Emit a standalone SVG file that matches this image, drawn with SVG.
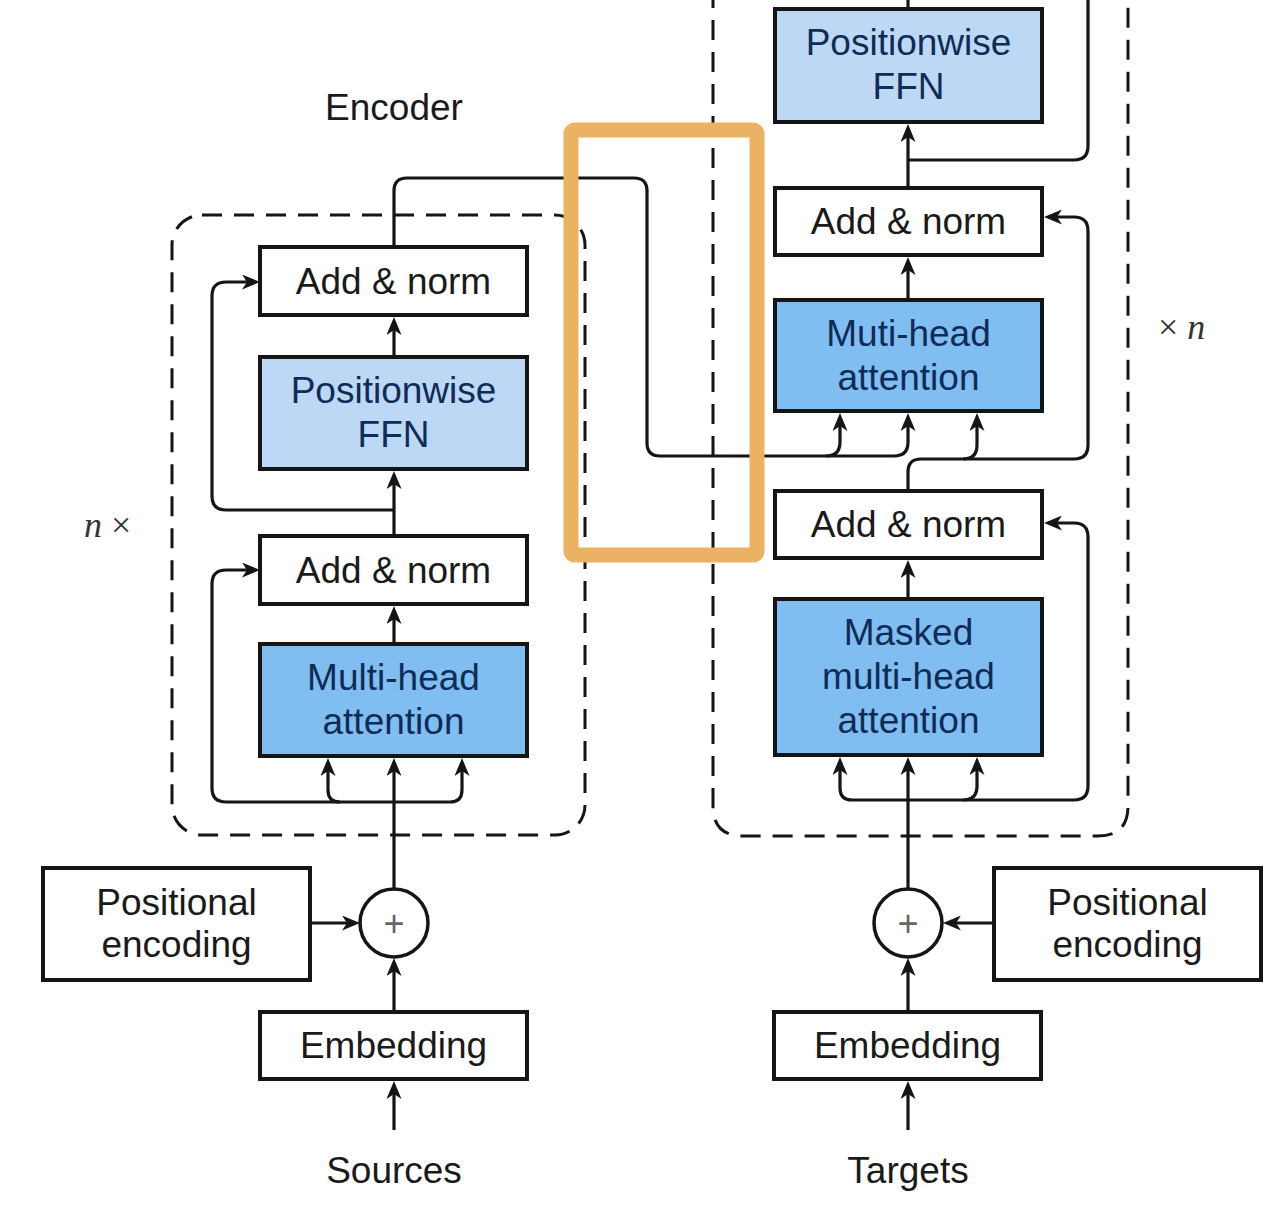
<svg xmlns="http://www.w3.org/2000/svg" width="1284" height="1228" viewBox="0 0 1284 1228">
  <style>
    .box { stroke: #151515; stroke-width: 4; }
    .plain { fill: #ffffff; }
    .ffn { fill: #bdd8f4; }
    .att { fill: #80bdf0; }
    .lbl { font-family: "Liberation Sans", Arial, sans-serif; font-size: 37px; text-anchor: middle; fill: #1a1a1a; }
    .lbl-blue { font-family: "Liberation Sans", Arial, sans-serif; font-size: 37px; text-anchor: middle; fill: #0f2b57; }
    .wire { fill: none; stroke: #151515; stroke-width: 3.2; }
    .arrow { fill: none; stroke: #151515; stroke-width: 3.2; marker-end: url(#head); }
    .frame { fill: none; stroke: #151515; stroke-width: 3; stroke-dasharray: 20 12; }
    .rep { font-family: "Liberation Serif", "Times New Roman", serif; font-size: 36px; fill: #333; }
    .sum { fill: #ffffff; stroke: #151515; stroke-width: 3.5; }
    .plus { font-family: "Liberation Sans", Arial, sans-serif; font-size: 36px; text-anchor: middle; fill: #666; }
  </style>
  <defs>
    <marker id="head" viewBox="0 0 18 15" markerWidth="18" markerHeight="15" refX="10" refY="7.5" orient="auto" markerUnits="userSpaceOnUse">
      <path d="M0,0 L18,7.5 L0,15 L5,7.5 Z" fill="#151515"/>
    </marker>
  </defs>

  <rect width="1284" height="1228" fill="#ffffff"/>

  <!-- repeated-block frames -->
  <g id="frames">
    <rect class="frame" x="172" y="215" width="413" height="620" rx="30" ry="30"/>
    <path class="frame" d="M713 -12 V806 Q713 836 743 836 H1098 Q1128 836 1128 806 V-12"/>
  </g>

  <!-- labels outside nodes -->
  <g id="captions">
    <text class="lbl" x="394" y="120">Encoder</text>
    <text class="lbl" x="394" y="1183">Sources</text>
    <text class="lbl" x="908" y="1183">Targets</text>
    <text class="rep" x="84" y="537"><tspan font-style="italic">n</tspan> ×</text>
    <text class="rep" x="1158" y="339">× <tspan font-style="italic">n</tspan></text>
  </g>

  <!-- connectors -->
  <g id="connectors">
    <!-- encoder input path -->
    <path class="arrow" d="M394 1130 V1089"/>
    <path class="arrow" d="M394 1012 V966"/>
    <path class="arrow" d="M310 923 H352"/>
    <path class="arrow" d="M394 889 V766"/>
    <!-- encoder attention fan-out and residual -->
    <path class="arrow" d="M394 802 H340 Q328 802 328 790 V766"/>
    <path class="arrow" d="M394 802 H450 Q462 802 462 790 V766"/>
    <path class="arrow" d="M340 802 H226 Q212 802 212 788 V584 Q212 570 226 570 H252"/>
    <path class="arrow" d="M394 644 V614"/>
    <path class="arrow" d="M394 536 V479"/>
    <path class="arrow" d="M394 510 H226 Q212 510 212 496 V296 Q212 282 226 282 H252"/>
    <path class="arrow" d="M394 357 V325"/>
    <!-- encoder output into decoder cross-attention -->
    <path class="wire" d="M394 247 V191 Q394 178 407 178 H634 Q647 178 647 191 V443 Q647 456 660 456 H826"/>
    <path class="arrow" d="M826 456 Q840 456 840 442 V421"/>
    <path class="arrow" d="M826 456 H894 Q908 456 908 442 V421"/>
    <!-- decoder input path -->
    <path class="arrow" d="M908 1130 V1089"/>
    <path class="arrow" d="M908 1012 V966"/>
    <path class="arrow" d="M994 923 H951"/>
    <path class="arrow" d="M908 889 V765"/>
    <!-- decoder masked attention fan-out and residual -->
    <path class="arrow" d="M908 800 H852 Q840 800 840 788 V765"/>
    <path class="arrow" d="M908 800 H963 Q977 800 977 786 V765"/>
    <path class="arrow" d="M963 800 H1074 Q1088 800 1088 786 V537 Q1088 523 1074 523 H1052"/>
    <path class="arrow" d="M908 599 V568"/>
    <!-- decoder query path and residual -->
    <path class="arrow" d="M908 491 V472 Q908 459 921 459 H963 Q977 459 977 445 V421"/>
    <path class="arrow" d="M963 459 H1074 Q1088 459 1088 445 V231 Q1088 217 1074 217 H1052"/>
    <path class="arrow" d="M908 300 V265"/>
    <path class="arrow" d="M908 188 V132"/>
    <path class="wire" d="M908 160 H1074 Q1088 160 1088 146 V-4"/>
    <path class="wire" d="M908 9 V-4"/>
  </g>

  <!-- encoder nodes -->
  <g id="enc-addnorm-2">
    <rect class="box plain" x="260" y="247" width="267" height="68"/>
    <text class="lbl" x="393.5" y="294">Add &amp; norm</text>
  </g>
  <g id="enc-ffn">
    <rect class="box ffn" x="260" y="357" width="267" height="112"/>
    <text class="lbl-blue" x="393.5" y="403">Positionwise</text>
    <text class="lbl-blue" x="393.5" y="447">FFN</text>
  </g>
  <g id="enc-addnorm-1">
    <rect class="box plain" x="260" y="536" width="267" height="68"/>
    <text class="lbl" x="393.5" y="583">Add &amp; norm</text>
  </g>
  <g id="enc-attention">
    <rect class="box att" x="260" y="644" width="267" height="112"/>
    <text class="lbl-blue" x="393.5" y="690">Multi-head</text>
    <text class="lbl-blue" x="393.5" y="734">attention</text>
  </g>
  <g id="enc-posenc">
    <rect class="box plain" x="43" y="868" width="267" height="112"/>
    <text class="lbl" x="176.5" y="915">Positional</text>
    <text class="lbl" x="176.5" y="957">encoding</text>
  </g>
  <g id="enc-sum">
    <circle class="sum" cx="394" cy="923" r="34"/>
    <text class="plus" x="394" y="936">+</text>
  </g>
  <g id="enc-embedding">
    <rect class="box plain" x="260" y="1012" width="267" height="67"/>
    <text class="lbl" x="393.5" y="1058">Embedding</text>
  </g>

  <!-- decoder nodes -->
  <g id="dec-ffn">
    <rect class="box ffn" x="775" y="9" width="267" height="113"/>
    <text class="lbl-blue" x="908.5" y="55">Positionwise</text>
    <text class="lbl-blue" x="908.5" y="99">FFN</text>
  </g>
  <g id="dec-addnorm-2">
    <rect class="box plain" x="775" y="188" width="267" height="67"/>
    <text class="lbl" x="908.5" y="234">Add &amp; norm</text>
  </g>
  <g id="dec-cross-attention">
    <rect class="box att" x="775" y="300" width="267" height="111"/>
    <text class="lbl-blue" x="908.5" y="346">Muti-head</text>
    <text class="lbl-blue" x="908.5" y="390">attention</text>
  </g>
  <g id="dec-addnorm-1">
    <rect class="box plain" x="775" y="491" width="267" height="67"/>
    <text class="lbl" x="908.5" y="537">Add &amp; norm</text>
  </g>
  <g id="dec-masked-attention">
    <rect class="box att" x="775" y="599" width="267" height="156"/>
    <text class="lbl-blue" x="908.5" y="645">Masked</text>
    <text class="lbl-blue" x="908.5" y="689">multi-head</text>
    <text class="lbl-blue" x="908.5" y="733">attention</text>
  </g>
  <g id="dec-sum">
    <circle class="sum" cx="908" cy="923" r="34"/>
    <text class="plus" x="908" y="936">+</text>
  </g>
  <g id="dec-posenc">
    <rect class="box plain" x="994" y="868" width="267" height="112"/>
    <text class="lbl" x="1127.5" y="915">Positional</text>
    <text class="lbl" x="1127.5" y="957">encoding</text>
  </g>
  <g id="dec-embedding">
    <rect class="box plain" x="774" y="1012" width="267" height="67"/>
    <text class="lbl" x="907.5" y="1058">Embedding</text>
  </g>

  <!-- highlight around the encoder-to-decoder link -->
  <g id="highlight">
    <rect x="571" y="130" width="186" height="425" rx="4" ry="4" fill="none" stroke="#ebb263" stroke-width="15"/>
  </g>
</svg>
